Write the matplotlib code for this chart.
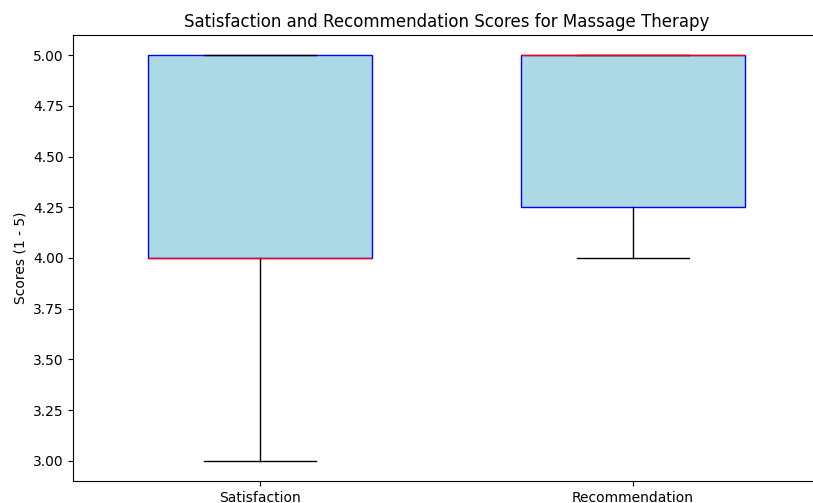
import numpy as np
import matplotlib
matplotlib.use('Agg')
import matplotlib.pyplot as plt

# survey scores (1 - 5)
categories = ['Satisfaction', 'Recommendation']
satisfaction = [3, 4, 4, 5, 5]
recommendation = [4, 4, 5, 5, 5, 5]

fig = plt.figure(figsize=(8.13, 5.03), dpi=100)
ax = fig.add_axes([0.0904, 0.0437, 0.9176, 0.887])

bp = ax.boxplot([satisfaction, recommendation], patch_artist=True, widths=0.6,
                boxprops=dict(facecolor='lightblue', color='blue'),
                medianprops=dict(color='red'),
                whiskerprops=dict(color='black'),
                capprops=dict(color='black'))

ax.set_xticks([1, 2])
ax.set_xticklabels(categories)
ax.set_title('Satisfaction and Recommendation Scores for Massage Therapy')
ax.set_ylabel('Scores (1 - 5)')

plt.savefig('out.png', dpi=100)
